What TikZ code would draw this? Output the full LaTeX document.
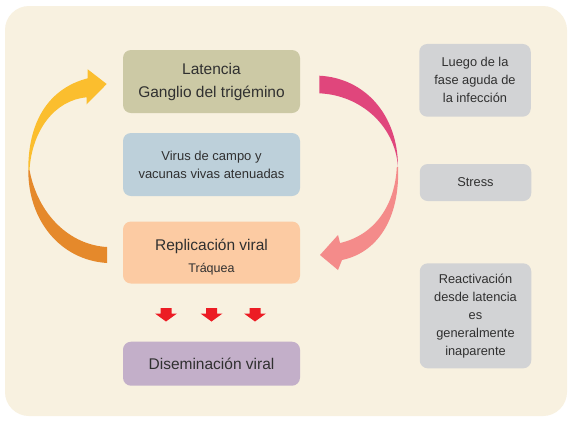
\documentclass[tikz,border=0pt]{standalone}
\usepackage{fontspec}
\setmainfont{Liberation Sans}
\definecolor{bgc}{HTML}{F8F1E0}
\definecolor{latc}{HTML}{CCC9A5}
\definecolor{virc}{HTML}{BDD0DA}
\definecolor{repc}{HTML}{FCCBA3}
\definecolor{disc}{HTML}{C3AFC9}
\definecolor{greyc}{HTML}{D2D3D5}
\definecolor{yelc}{HTML}{FBBE2E}
\definecolor{orac}{HTML}{E5892B}
\definecolor{magc}{HTML}{E0467C}
\definecolor{salc}{HTML}{F48B8A}
\definecolor{redc}{HTML}{EC1C24}
\definecolor{txtc}{HTML}{303030}
\tikzset{
  box/.style={rounded corners=8pt, inner sep=0pt, align=center, text=txtc},
  mainbox/.style={box, minimum width=177pt},
  sidebox/.style={box, fill=greyc, minimum width=111.5pt, font=\fontsize{12.8}{18}\selectfont},
  downarrow/.style={fill=redc}
}
\begin{document}
\begin{tikzpicture}[x=1pt,y=-1pt]
\useasboundingbox (0,0) rectangle (573,424);
\fill[white] (0,0) rectangle (573,424);
\fill[bgc, rounded corners=24pt] (5,6) rectangle (567,416);

\node[mainbox, fill=latc, minimum height=63pt, font=\fontsize{15.5}{23}\selectfont] (lat) at (211.5,81.5) {Latencia\\Ganglio del trigémino};
\node[mainbox, fill=virc, minimum height=63pt, font=\fontsize{13}{18}\selectfont] (vir) at (211.5,164.5) {Virus de campo y\\vacunas vivas atenuadas};
\node[mainbox, fill=repc, minimum height=62pt, font=\fontsize{15.5}{22}\selectfont] (rep) at (211.5,252.5) {\rule{0pt}{20pt}Replicación viral\\\fontsize{12.5}{22}\selectfont Tráquea};
\node[mainbox, fill=disc, minimum height=44pt, font=\fontsize{15.5}{18}\selectfont] (dis) at (211.5,363.7) {Diseminación viral};

\node[sidebox, minimum height=72.7pt] (lue) at (475,80.3) {Luego de la\\fase aguda de\\la infección};
\node[sidebox, minimum height=37pt] (str) at (475.5,182.5) {Stress};
\node[sidebox, minimum height=105pt] (rea) at (475.5,315.8) {Reactivación\\desde latencia\\es\\generalmente\\inaparente};

% small red arrows between replication and dissemination
\coordinate (d1) at (166,308);
\coordinate (d2) at (211.5,308);
\coordinate (d3) at (255,308);
\foreach \d in {d1,d2,d3}{
  \fill[downarrow] (\d) ++(-5.5,0) -- ++(11,0) -- ++(0,5.5) -- ++(5.5,0)
    -- ++(-11,8) -- ++(-11,-8) -- ++(5.5,0) -- cycle;
}

% left cycle arrow
\fill[orac] (28.3,170) .. controls (28,220) and (60,260) .. (107,263)
  -- (107,247) .. controls (70,245) and (38,215) .. (29.5,170) -- cycle;
\fill[yelc] (28.3,170) .. controls (28,120) and (50,88) .. (87.7,78.3)
  -- (87.7,69.3) -- (106.7,84) -- (86.7,104.3) -- (86.7,97.3)
  .. controls (55,100) and (32,130) .. (29.5,170) -- cycle;

% right cycle arrow
\fill[magc] (319.3,75.7) .. controls (365,78) and (398,115) .. (398,167)
  .. controls (395,125) and (360,95) .. (319.3,93.3) -- cycle;
\fill[salc] (398,167) .. controls (400,215) and (380,252) .. (342,260)
  -- (338,270) -- (320,255) -- (338,235) -- (340,243)
  .. controls (375,235) and (395,205) .. (396.8,167) -- cycle;
\end{tikzpicture}
\end{document}
